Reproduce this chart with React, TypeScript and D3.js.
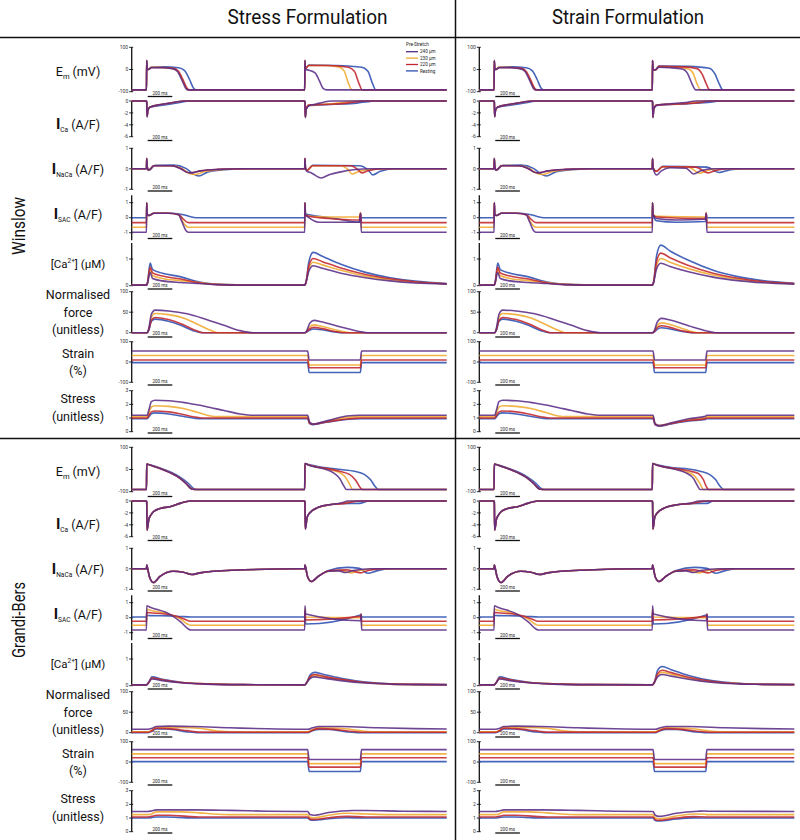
import React from 'react';
import * as d3 from 'd3';

type Pt = [number, number];

// ---------------- DATA (time in ms, values in panel units) ----------------
// Winslow, first beat (shared by both formulations)
const W1_EM_P: Pt[] = [[0,-92],[120,-92],[122,40],[126,2],[135,0],[160,8],[250,8],[330,4],[370,-8],[410,-50],[440,-85],[460,-92],[1400,-92]];
const W1_EM_O: Pt[] = [[0,-92],[120,-92],[122,40],[126,2],[135,0],[160,10],[250,9],[335,4],[375,-8],[415,-50],[445,-85],[465,-92],[1400,-92]];
const W1_EM_R: Pt[] = [[0,-92],[120,-92],[122,40],[126,2],[135,0],[160,9],[250,9],[340,5],[380,-8],[420,-50],[450,-85],[470,-92],[1400,-92]];
const W1_EM_B: Pt[] = [[0,-92],[120,-92],[122,40],[126,2],[135,0],[160,10],[260,12],[380,8],[430,-5],[470,-45],[500,-82],[525,-92],[1400,-92]];
const W1_ICA: Pt[] = [[0,0],[120,0],[122,-0.2],[125,-2.6],[132,-1.5],[150,-1.0],[250,-0.55],[350,-0.2],[430,0],[1400,0]];
const W1_ICA_B: Pt[] = [[0,0],[120,0],[122,-0.2],[125,-2.7],[132,-1.5],[150,-1.05],[250,-0.7],[380,-0.3],[470,0],[1400,0]];
const W1_NCX: Pt[] = [[0,0],[120,0],[122,0.5],[126,0.1],[135,-0.05],[150,-0.02],[180,0.15],[320,0.15],[400,0],[440,-0.15],[480,-0.2],[560,-0.1],[700,-0.03],[900,0],[1400,0]];
const W1_NCX_O: Pt[] = [[0,0],[120,0],[122,0.5],[126,0.1],[135,-0.05],[150,-0.02],[180,0.16],[330,0.15],[410,0],[460,-0.2],[520,-0.28],[600,-0.12],[750,-0.03],[900,0],[1400,0]];
const W1_NCX_B: Pt[] = [[0,0],[120,0],[122,0.5],[126,0.1],[135,-0.08],[150,-0.04],[190,0.17],[340,0.18],[440,0.02],[500,-0.25],[545,-0.35],[620,-0.15],[750,-0.04],[950,0],[1400,0]];
const W1_SAC_P: Pt[] = [[0,-0.97],[120,-0.97],[122,1.0],[126,0.2],[140,0.15],[180,0.3],[300,0.3],[380,0.2],[410,-0.3],[440,-0.85],[460,-0.97],[1400,-0.97]];
const W1_SAC_O: Pt[] = [[0,-0.64],[120,-0.64],[122,1.0],[126,0.2],[140,0.15],[180,0.3],[300,0.3],[380,0.2],[410,-0.2],[440,-0.55],[460,-0.64],[1400,-0.64]];
const W1_SAC_R: Pt[] = [[0,-0.33],[120,-0.33],[122,1.0],[126,0.2],[140,0.15],[180,0.3],[300,0.3],[385,0.2],[415,-0.05],[445,-0.28],[465,-0.33],[1400,-0.33]];
const W1_SAC_B: Pt[] = [[0,0],[120,0],[122,1.0],[126,0.2],[140,0.15],[180,0.3],[330,0.3],[420,0.2],[470,0.08],[525,0],[1400,0]];
const W1_CA_P: Pt[] = [[0,0.02],[120,0.02],[128,0.1],[150,0.5],[170,0.27],[250,0.18],[400,0.12],[550,0.08],[700,0.04],[1000,0.02],[1400,0.02]];
const W1_CA_O: Pt[] = [[0,0.02],[120,0.02],[128,0.1],[150,0.6],[170,0.38],[250,0.27],[400,0.19],[550,0.12],[700,0.05],[1000,0.02],[1400,0.02]];
const W1_CA_R: Pt[] = [[0,0.02],[120,0.02],[128,0.1],[150,0.7],[170,0.48],[250,0.36],[400,0.25],[550,0.1],[700,0.04],[1000,0.02],[1400,0.02]];
const W1_CA_B: Pt[] = [[0,0.02],[120,0.02],[128,0.1],[150,0.85],[170,0.6],[250,0.47],[400,0.33],[550,0.14],[700,0.05],[1000,0.02],[1400,0.02]];
const W1_F_P: Pt[] = [[0,0],[125,0],[140,12],[160,45],[190,55],[300,53],[450,46],[600,33],[750,18],[880,5],[990,0],[1400,0]];
const W1_F_O: Pt[] = [[0,0],[125,0],[140,10],[160,38],[190,47],[300,44],[420,36],[540,20],[640,6],[700,0],[1400,0]];
const W1_F_R: Pt[] = [[0,0],[125,0],[140,8],[160,30],[190,37],[300,32],[400,22],[500,8],[580,0],[1400,0]];
const W1_F_B: Pt[] = [[0,0],[125,0],[140,7],[160,28],[190,33],[300,28],[400,18],[500,5],[570,0],[1400,0]];
const W1_STN_P: Pt[] = [[0,54],[1400,54]];
const W1_STN_O: Pt[] = [[0,32],[1400,32]];
const W1_STN_R: Pt[] = [[0,10],[1400,10]];
const W1_STN_B: Pt[] = [[0,-3],[1400,-3]];
const W1_STS_P: Pt[] = [[0,1.2],[125,1.2],[140,1.6],[160,2.2],[190,2.3],[300,2.27],[450,2.1],[600,1.85],[750,1.55],[880,1.3],[990,1.2],[1400,1.2]];
const W1_STS_O: Pt[] = [[0,1.1],[125,1.1],[140,1.4],[160,1.8],[190,1.9],[300,1.85],[420,1.7],[540,1.4],[640,1.15],[700,1.1],[1400,1.1]];
const W1_STS_R: Pt[] = [[0,1.0],[125,1.0],[140,1.2],[160,1.45],[190,1.52],[300,1.45],[400,1.3],[500,1.1],[580,1.0],[1400,1.0]];
const W1_STS_B: Pt[] = [[0,0.95],[125,0.95],[140,1.1],[160,1.32],[190,1.38],[300,1.3],[400,1.15],[500,1.0],[570,0.95],[1400,0.95]];

// Winslow, second beat, stress formulation
const WS2_EM_P: Pt[] = [[1406,-92],[1408,40],[1412,0],[1440,-3],[1490,-15],[1525,-50],[1555,-85],[1585,-92],[2560,-92]];
const WS2_EM_O: Pt[] = [[1406,-92],[1408,40],[1412,5],[1440,18],[1550,18],[1680,12],[1725,-5],[1760,-60],[1790,-92],[2560,-92]];
const WS2_EM_R: Pt[] = [[1406,-92],[1408,40],[1412,5],[1440,18],[1600,18],[1760,10],[1810,-8],[1845,-60],[1875,-92],[2560,-92]];
const WS2_EM_B: Pt[] = [[1406,-92],[1408,40],[1412,5],[1440,20],[1650,18],[1870,10],[1920,-8],[1955,-60],[1985,-92],[2560,-92]];
const WS2_ICA_P: Pt[] = [[1406,0],[1408,-0.2],[1411,-2.7],[1418,-1.4],[1440,-0.8],[1500,-0.5],[1560,-0.2],[1620,0],[2560,0]];
const WS2_ICA_O: Pt[] = [[1406,0],[1408,-0.2],[1411,-2.7],[1418,-1.3],[1440,-0.7],[1550,-0.55],[1680,-0.35],[1760,-0.1],[1800,0],[2560,0]];
const WS2_ICA_R: Pt[] = [[1406,0],[1408,-0.2],[1411,-2.7],[1418,-1.3],[1440,-0.7],[1600,-0.55],[1750,-0.35],[1840,-0.1],[1880,0],[2560,0]];
const WS2_ICA_B: Pt[] = [[1406,0],[1408,-0.2],[1411,-2.8],[1418,-1.4],[1440,-0.75],[1650,-0.55],[1830,-0.35],[1920,-0.1],[1970,0],[2560,0]];
const WS2_NCX_P: Pt[] = [[1406,0],[1408,0.5],[1412,0.05],[1420,-0.1],[1460,-0.2],[1540,-0.45],[1600,-0.3],[1700,-0.15],[1800,-0.05],[1950,0],[2560,0]];
const WS2_NCX_O: Pt[] = [[1406,0],[1408,0.5],[1412,0.05],[1425,-0.08],[1470,0.15],[1700,0.15],[1760,-0.05],[1790,-0.25],[1850,-0.12],[1950,-0.02],[2100,0],[2560,0]];
const WS2_NCX_R: Pt[] = [[1406,0],[1408,0.5],[1412,0.05],[1425,-0.08],[1470,0.15],[1780,0.15],[1840,-0.05],[1870,-0.2],[1920,-0.1],[2050,0],[2560,0]];
const WS2_NCX_B: Pt[] = [[1406,0],[1408,0.5],[1412,0.05],[1425,-0.08],[1470,0.17],[1850,0.15],[1920,-0.05],[1960,-0.3],[2020,-0.12],[2150,0],[2560,0]];
const WS2_SAC_P: Pt[] = [[1406,-0.97],[1408,1.0],[1412,0.2],[1440,0.0],[1520,-0.3],[1850,-0.3],[1860,0.3],[1866,-0.97],[2560,-0.97]];
const WS2_SAC_O: Pt[] = [[1406,-0.64],[1408,1.0],[1412,0.2],[1440,0.1],[1600,0.05],[1850,0.05],[1860,0.35],[1866,-0.64],[2560,-0.64]];
const WS2_SAC_R: Pt[] = [[1406,-0.33],[1408,1.0],[1412,0.2],[1440,0.1],[1600,-0.05],[1850,-0.15],[1860,0.3],[1866,-0.33],[2560,-0.33]];
const WS2_SAC_B: Pt[] = [[1406,0],[1408,1.0],[1412,0.25],[1440,0.2],[1650,-0.05],[1850,-0.3],[1860,0.3],[1866,0],[2560,0]];
const WS2_CA_P: Pt[] = [[1406,0.02],[1415,0.1],[1440,0.55],[1475,0.75],[1550,0.65],[1700,0.47],[1900,0.3],[2100,0.18],[2300,0.1],[2560,0.06]];
const WS2_CA_O: Pt[] = [[1406,0.02],[1415,0.1],[1440,0.65],[1475,0.88],[1550,0.78],[1700,0.58],[1900,0.36],[2100,0.22],[2300,0.13],[2560,0.07]];
const WS2_CA_R: Pt[] = [[1406,0.02],[1415,0.1],[1440,0.75],[1475,1.02],[1550,0.9],[1700,0.66],[1900,0.42],[2100,0.26],[2300,0.15],[2560,0.07]];
const WS2_CA_B: Pt[] = [[1406,0.02],[1415,0.1],[1440,0.9],[1475,1.25],[1550,1.1],[1700,0.8],[1900,0.5],[2100,0.3],[2300,0.17],[2560,0.08]];
const WS2_F_P: Pt[] = [[1406,0],[1420,3],[1445,22],[1480,30],[1550,26],[1700,14],[1850,3],[1920,0],[2560,0]];
const WS2_F_O: Pt[] = [[1406,0],[1420,2],[1445,14],[1480,19],[1550,15],[1680,5],[1780,0],[2560,0]];
const WS2_F_R: Pt[] = [[1406,0],[1420,2],[1445,9],[1480,13],[1550,10],[1650,3],[1740,0],[2560,0]];
const WS2_F_B: Pt[] = [[1406,0],[1420,1],[1445,6],[1480,9],[1550,7],[1650,2],[1720,0],[2560,0]];
const WS2_STN_P: Pt[] = [[1406,54],[1430,54],[1442,10],[1858,10],[1868,54],[2560,54]];
const WS2_STN_O: Pt[] = [[1406,32],[1430,32],[1442,-15],[1858,-15],[1868,32],[2560,32]];
const WS2_STN_R: Pt[] = [[1406,10],[1430,10],[1442,-28],[1858,-28],[1868,10],[2560,10]];
const WS2_STN_B: Pt[] = [[1406,-3],[1430,-3],[1442,-52],[1858,-52],[1868,-3],[2560,-3]];
const WS2_STS_P: Pt[] = [[1406,1.2],[1430,1.2],[1445,0.7],[1475,0.55],[1550,0.7],[1650,0.95],[1750,1.15],[1850,1.2],[2560,1.2]];
const WS2_STS_O: Pt[] = [[1406,1.1],[1430,1.1],[1445,0.65],[1475,0.55],[1550,0.68],[1650,0.9],[1750,1.05],[1850,1.1],[2560,1.1]];
const WS2_STS_R: Pt[] = [[1406,1.0],[1430,1.0],[1445,0.62],[1475,0.55],[1560,0.68],[1680,0.85],[1800,0.97],[1860,1.0],[2560,1.0]];
const WS2_STS_B: Pt[] = [[1406,0.95],[1430,0.95],[1445,0.6],[1475,0.52],[1560,0.65],[1680,0.82],[1800,0.93],[1860,0.95],[2560,0.95]];

// Winslow, second beat, strain formulation
const WN2_EM_P: Pt[] = [[1406,-92],[1408,40],[1412,0],[1430,-2],[1460,10],[1550,8],[1650,2],[1690,-15],[1725,-60],[1760,-92],[2560,-92]];
const WN2_EM_O: Pt[] = [[1406,-92],[1408,40],[1412,0],[1430,-2],[1460,12],[1600,10],[1700,2],[1740,-20],[1770,-65],[1800,-92],[2560,-92]];
const WN2_EM_R: Pt[] = [[1406,-92],[1408,40],[1412,0],[1430,-2],[1460,14],[1650,12],[1770,4],[1810,-20],[1845,-65],[1872,-92],[2560,-92]];
const WN2_EM_B: Pt[] = [[1406,-92],[1408,40],[1412,0],[1430,-2],[1460,16],[1700,14],[1870,6],[1915,-20],[1950,-65],[1980,-92],[2560,-92]];
const WN2_ICA_P: Pt[] = [[1406,0],[1408,-0.2],[1411,-2.7],[1418,-1.3],[1440,-0.7],[1550,-0.45],[1680,-0.25],[1760,0],[2560,0]];
const WN2_ICA_O: Pt[] = [[1406,0],[1408,-0.2],[1411,-2.7],[1418,-1.3],[1440,-0.7],[1600,-0.45],[1740,-0.25],[1810,0],[2560,0]];
const WN2_ICA_R: Pt[] = [[1406,0],[1408,-0.2],[1411,-2.7],[1418,-1.3],[1440,-0.7],[1650,-0.45],[1800,-0.25],[1870,0],[2560,0]];
const WN2_ICA_B: Pt[] = [[1406,0],[1408,-0.2],[1411,-2.8],[1418,-1.4],[1440,-0.75],[1700,-0.45],[1880,-0.2],[1950,0],[2560,0]];
const WN2_NCX_P: Pt[] = [[1406,0],[1408,0.5],[1412,0.05],[1440,-0.3],[1480,-0.1],[1550,0.05],[1680,0.03],[1740,-0.25],[1800,-0.1],[1900,0],[2560,0]];
const WN2_NCX_O: Pt[] = [[1406,0],[1408,0.5],[1412,0.05],[1440,-0.12],[1490,0.1],[1700,0.08],[1790,-0.22],[1850,-0.08],[1950,0],[2560,0]];
const WN2_NCX_R: Pt[] = [[1406,0],[1408,0.5],[1412,0.05],[1440,-0.12],[1490,0.1],[1760,0.08],[1860,-0.2],[1920,-0.08],[2020,0],[2560,0]];
const WN2_NCX_B: Pt[] = [[1406,0],[1408,0.5],[1412,0.05],[1440,-0.12],[1490,0.12],[1850,0.08],[1950,-0.18],[2020,-0.08],[2120,0],[2560,0]];
const WN2_SAC_P: Pt[] = [[1406,-0.97],[1408,1.0],[1412,0.2],[1440,-0.05],[1600,-0.15],[1838,-0.1],[1844,0.3],[1850,-0.97],[2560,-0.97]];
const WN2_SAC_O: Pt[] = [[1406,-0.64],[1408,1.0],[1412,0.2],[1440,0.1],[1838,0.05],[1844,0.35],[1850,-0.64],[2560,-0.64]];
const WN2_SAC_R: Pt[] = [[1406,-0.33],[1408,1.0],[1412,0.2],[1440,0.05],[1838,-0.05],[1844,0.3],[1850,-0.33],[2560,-0.33]];
const WN2_SAC_B: Pt[] = [[1406,0],[1408,1.0],[1412,0.2],[1440,-0.2],[1600,-0.3],[1838,-0.25],[1844,0.3],[1850,0],[2560,0]];
const WN2_CA_P: Pt[] = [[1406,0.02],[1415,0.1],[1440,0.62],[1475,0.84],[1550,0.72],[1700,0.52],[1900,0.32],[2100,0.19],[2300,0.11],[2560,0.06]];
const WN2_CA_O: Pt[] = [[1406,0.02],[1415,0.1],[1440,0.75],[1475,1.02],[1550,0.88],[1700,0.64],[1900,0.4],[2100,0.24],[2300,0.14],[2560,0.07]];
const WN2_CA_R: Pt[] = [[1406,0.02],[1415,0.1],[1440,0.9],[1475,1.22],[1550,1.05],[1700,0.76],[1900,0.47],[2100,0.28],[2300,0.16],[2560,0.08]];
const WN2_CA_B: Pt[] = [[1406,0.02],[1415,0.1],[1440,1.1],[1475,1.52],[1550,1.3],[1700,0.95],[1900,0.58],[2100,0.34],[2300,0.19],[2560,0.09]];
const WN2_F_P: Pt[] = [[1406,0],[1420,3],[1445,25],[1480,35],[1550,31],[1700,17],[1850,4],[1920,0],[2560,0]];
const WN2_F_O: Pt[] = [[1406,0],[1420,2],[1445,17],[1480,24],[1550,20],[1680,7],[1790,0],[2560,0]];
const WN2_F_R: Pt[] = [[1406,0],[1420,2],[1445,12],[1480,17],[1550,13],[1660,4],[1750,0],[2560,0]];
const WN2_F_B: Pt[] = [[1406,0],[1420,1],[1445,8],[1480,12],[1550,9],[1650,3],[1730,0],[2560,0]];
const WN2_STN_P: Pt[] = [[1406,54],[1412,54],[1424,10],[1840,10],[1850,54],[2560,54]];
const WN2_STN_O: Pt[] = [[1406,32],[1412,32],[1424,-15],[1840,-15],[1850,32],[2560,32]];
const WN2_STN_R: Pt[] = [[1406,10],[1412,10],[1424,-28],[1840,-28],[1850,10],[2560,10]];
const WN2_STN_B: Pt[] = [[1406,-3],[1412,-3],[1424,-52],[1840,-52],[1850,-3],[2560,-3]];
const WN2_STS_P: Pt[] = [[1406,1.2],[1412,1.2],[1428,0.6],[1460,0.45],[1560,0.65],[1700,0.95],[1838,1.12],[1848,1.2],[2560,1.2]];
const WN2_STS_O: Pt[] = [[1406,1.1],[1412,1.1],[1428,0.58],[1460,0.45],[1560,0.62],[1700,0.88],[1838,1.03],[1848,1.1],[2560,1.1]];
const WN2_STS_R: Pt[] = [[1406,1.0],[1412,1.0],[1428,0.55],[1460,0.43],[1560,0.6],[1700,0.82],[1838,0.95],[1848,1.0],[2560,1.0]];
const WN2_STS_B: Pt[] = [[1406,0.95],[1412,0.95],[1428,0.52],[1460,0.4],[1560,0.57],[1700,0.78],[1838,0.9],[1848,0.95],[2560,0.95]];

// Grandi-Bers, first beat
const G1_EM: Pt[] = [[0,-90],[120,-90],[122,25],[149,20],[230,5],[311,-14],[393,-40],[447,-66],[488,-88],[510,-90],[1400,-90]];
const G1_EM_B: Pt[] = [[0,-90],[120,-90],[122,25],[149,21],[230,7],[311,-10],[393,-34],[460,-62],[505,-86],[530,-90],[1400,-90]];
const G1_ICA: Pt[] = [[0,0],[120,0],[122,-0.2],[125,-4.9],[140,-3],[149,-2.6],[176,-1.8],[230,-1.25],[311,-0.95],[393,-0.4],[474,0],[1400,0]];
const G1_NCX: Pt[] = [[0,0],[120,0],[122,0.18],[128,0.05],[145,-0.4],[176,-0.67],[230,-0.37],[338,-0.12],[420,-0.17],[488,-0.28],[555,-0.2],[826,-0.07],[1369,0],[1400,0]];
const G1_SAC_P: Pt[] = [[0,-0.82],[120,-0.82],[122,0.8],[150,0.7],[311,0.22],[400,-0.3],[460,-0.75],[480,-0.82],[1400,-0.82]];
const G1_SAC_O: Pt[] = [[0,-0.5],[120,-0.5],[122,0.56],[150,0.5],[311,0.22],[400,-0.1],[460,-0.45],[480,-0.5],[1400,-0.5]];
const G1_SAC_R: Pt[] = [[0,-0.24],[120,-0.24],[122,0.35],[150,0.33],[311,0.2],[400,0.0],[460,-0.2],[480,-0.24],[1400,-0.24]];
const G1_SAC_B: Pt[] = [[0,0.05],[120,0.05],[122,0.15],[150,0.14],[311,0.12],[400,0.08],[480,0.05],[1400,0.05]];
const G1_CA_P: Pt[] = [[0,0.03],[120,0.03],[135,0.1],[165,0.25],[250,0.19],[400,0.11],[600,0.06],[900,0.04],[1400,0.03]];
const G1_CA_O: Pt[] = [[0,0.03],[120,0.03],[135,0.1],[165,0.27],[250,0.21],[400,0.12],[600,0.07],[900,0.04],[1400,0.03]];
const G1_CA_R: Pt[] = [[0,0.03],[120,0.03],[135,0.1],[165,0.29],[250,0.22],[400,0.12],[600,0.07],[900,0.04],[1400,0.03]];
const G1_CA_B: Pt[] = [[0,0.03],[120,0.03],[135,0.1],[165,0.33],[250,0.24],[400,0.13],[600,0.07],[900,0.04],[1400,0.03]];
const G1_F_P: Pt[] = [[0,8.5],[130,8.5],[160,10],[200,15],[300,16],[500,15],[800,12],[1100,9.5],[1400,8.5]];
const G1_F_O: Pt[] = [[0,2],[130,2],[160,5],[200,13],[400,13],[550,11],[700,4],[800,2.5],[1400,2]];
const G1_F_R: Pt[] = [[0,1],[130,1],[160,4],[200,11],[300,10],[450,5],[550,1.5],[1400,1]];
const G1_F_B: Pt[] = [[0,0],[130,0],[160,3],[200,9],[285,9],[450,2],[550,0],[1400,0]];
const G1_STN_P: Pt[] = [[0,61],[1400,61]];
const G1_STN_O: Pt[] = [[0,40],[1400,40]];
const G1_STN_R: Pt[] = [[0,21],[1400,21]];
const G1_STN_B: Pt[] = [[0,2],[1400,2]];
const G1_STS_P: Pt[] = [[0,1.48],[130,1.48],[160,1.52],[200,1.6],[500,1.6],[800,1.56],[1100,1.5],[1400,1.48]];
const G1_STS_O: Pt[] = [[0,1.25],[130,1.25],[160,1.3],[200,1.45],[400,1.45],[550,1.38],[700,1.28],[800,1.25],[1400,1.25]];
const G1_STS_R: Pt[] = [[0,1.08],[130,1.08],[160,1.12],[200,1.2],[300,1.2],[450,1.12],[550,1.08],[1400,1.08]];
const G1_STS_B: Pt[] = [[0,1.0],[130,1.0],[160,1.03],[200,1.08],[285,1.08],[450,1.01],[550,1.0],[1400,1.0]];

// Grandi-Bers, second beat, stress formulation
const GS2_EM_P: Pt[] = [[1406,-90],[1408,27],[1440,19],[1500,10],[1580,0],[1640,-15],[1690,-40],[1725,-75],[1745,-90],[2560,-90]];
const GS2_EM_O: Pt[] = [[1406,-90],[1408,27],[1440,20],[1500,11],[1580,3],[1680,-12],[1730,-30],[1770,-65],[1795,-90],[2560,-90]];
const GS2_EM_R: Pt[] = [[1406,-90],[1408,27],[1440,20],[1500,12],[1580,5],[1690,-8],[1770,-22],[1820,-48],[1855,-80],[1875,-90],[2560,-90]];
const GS2_EM_B: Pt[] = [[1406,-90],[1408,27],[1440,22],[1500,15],[1580,8],[1700,0],[1810,-8],[1890,-22],[1940,-45],[1980,-78],[2005,-90],[2560,-90]];
const GS2_ICA_P: Pt[] = [[1406,0],[1408,-0.2],[1411,-4.7],[1425,-2.8],[1442,-2.1],[1523,-1.0],[1620,-0.6],[1700,-0.35],[1760,0],[2560,0]];
const GS2_ICA_O: Pt[] = [[1406,0],[1408,-0.2],[1411,-4.7],[1425,-2.8],[1442,-2.1],[1523,-1.0],[1620,-0.6],[1713,-0.4],[1800,0],[2560,0]];
const GS2_ICA_R: Pt[] = [[1406,0],[1408,-0.2],[1411,-4.7],[1425,-2.8],[1442,-2.1],[1523,-1.0],[1620,-0.6],[1730,-0.4],[1860,0],[2560,0]];
const GS2_ICA_B: Pt[] = [[1406,0],[1408,-0.2],[1411,-4.7],[1425,-2.8],[1442,-2.1],[1523,-1.0],[1620,-0.6],[1713,-0.45],[1849,-0.4],[1930,0],[2560,0]];
const GS2_NCX_P: Pt[] = [[1406,0],[1408,0.18],[1414,0.05],[1430,-0.4],[1460,-0.62],[1520,-0.35],[1600,-0.12],[1680,-0.1],[1740,-0.18],[1800,-0.08],[1950,0],[2560,0]];
const GS2_NCX_O: Pt[] = [[1406,0],[1408,0.18],[1414,0.05],[1430,-0.4],[1460,-0.62],[1520,-0.35],[1600,-0.12],[1700,-0.08],[1790,-0.2],[1850,-0.08],[2000,0],[2560,0]];
const GS2_NCX_R: Pt[] = [[1406,0],[1408,0.18],[1414,0.05],[1430,-0.4],[1460,-0.62],[1520,-0.35],[1600,-0.1],[1750,-0.05],[1860,-0.2],[1920,-0.08],[2050,0],[2560,0]];
const GS2_NCX_B: Pt[] = [[1406,0],[1408,0.18],[1414,0.05],[1430,-0.4],[1460,-0.62],[1520,-0.35],[1600,-0.08],[1750,0.07],[1850,0.02],[1920,-0.22],[1990,-0.1],[2100,0],[2560,0]];
const GS2_SAC_P: Pt[] = [[1406,-0.82],[1408,0.8],[1414,0.25],[1860,-0.2],[1864,0.22],[1869,-0.82],[2560,-0.82]];
const GS2_SAC_O: Pt[] = [[1406,-0.5],[1408,0.6],[1414,0.05],[1860,0.0],[1864,0.22],[1869,-0.5],[2560,-0.5]];
const GS2_SAC_R: Pt[] = [[1406,-0.24],[1408,0.45],[1414,-0.15],[1860,0.1],[1864,0.22],[1869,-0.24],[2560,-0.24]];
const GS2_SAC_B: Pt[] = [[1406,0.05],[1408,0.3],[1414,-0.42],[1860,0.18],[1864,0.22],[1869,0.05],[2560,0.05]];
const GS2_CA_P: Pt[] = [[1406,0.03],[1420,0.1],[1450,0.27],[1485,0.33],[1560,0.28],[1700,0.19],[1900,0.1],[2100,0.06],[2300,0.04],[2560,0.03]];
const GS2_CA_O: Pt[] = [[1406,0.03],[1420,0.1],[1450,0.3],[1485,0.38],[1560,0.32],[1700,0.22],[1900,0.11],[2100,0.06],[2300,0.04],[2560,0.03]];
const GS2_CA_R: Pt[] = [[1406,0.03],[1420,0.1],[1450,0.34],[1485,0.42],[1560,0.35],[1700,0.24],[1900,0.12],[2100,0.07],[2300,0.05],[2560,0.04]];
const GS2_CA_B: Pt[] = [[1406,0.03],[1420,0.1],[1450,0.4],[1485,0.5],[1560,0.42],[1700,0.28],[1900,0.14],[2100,0.07],[2300,0.05],[2560,0.04]];
const GS2_F_P: Pt[] = [[1406,8.5],[1430,8.5],[1470,12],[1520,15],[1700,15],[2000,12],[2300,10],[2560,9]];
const GS2_F_O: Pt[] = [[1406,2],[1430,2],[1470,8],[1520,12],[1700,11],[1850,5],[1950,2.5],[2560,2]];
const GS2_F_R: Pt[] = [[1406,1],[1430,1],[1470,6],[1520,10],[1650,8],[1800,3],[1900,1],[2560,1]];
const GS2_F_B: Pt[] = [[1406,0],[1430,0],[1470,5],[1520,8],[1600,8],[1750,2],[1850,0],[2560,0]];
const GS2_STN_P: Pt[] = [[1406,61],[1430,61],[1442,12],[1858,12],[1868,61],[2560,61]];
const GS2_STN_O: Pt[] = [[1406,40],[1430,40],[1442,-8],[1858,-8],[1868,40],[2560,40]];
const GS2_STN_R: Pt[] = [[1406,21],[1430,21],[1442,-25],[1858,-25],[1868,21],[2560,21]];
const GS2_STN_B: Pt[] = [[1406,2],[1430,2],[1442,-47],[1858,-47],[1868,2],[2560,2]];
const GS2_STS_P: Pt[] = [[1406,1.48],[1430,1.48],[1450,1.25],[1480,1.2],[1600,1.4],[1800,1.55],[1900,1.55],[2200,1.5],[2560,1.48]];
const GS2_STS_O: Pt[] = [[1406,1.25],[1430,1.25],[1450,1.05],[1480,1.02],[1600,1.2],[1750,1.35],[1900,1.3],[2100,1.25],[2560,1.25]];
const GS2_STS_R: Pt[] = [[1406,1.08],[1430,1.08],[1450,0.92],[1480,0.9],[1600,1.02],[1750,1.12],[1900,1.08],[2560,1.08]];
const GS2_STS_B: Pt[] = [[1406,1.0],[1430,1.0],[1450,0.86],[1480,0.84],[1600,0.95],[1750,1.02],[1900,1.0],[2560,1.0]];

// Grandi-Bers, second beat, strain formulation
const GN2_EM_P: Pt[] = [[1406,-90],[1408,27],[1440,20],[1500,11],[1580,2],[1680,-15],[1740,-40],[1775,-75],[1795,-90],[2560,-90]];
const GN2_EM_O: Pt[] = [[1406,-90],[1408,27],[1440,20],[1500,11],[1580,3],[1690,-12],[1750,-30],[1795,-65],[1821,-90],[2560,-90]];
const GN2_EM_R: Pt[] = [[1406,-90],[1408,27],[1440,20],[1500,12],[1580,5],[1700,-6],[1780,-18],[1820,-45],[1848,-80],[1862,-90],[2560,-90]];
const GN2_EM_B: Pt[] = [[1406,-90],[1408,27],[1440,22],[1500,15],[1577,8],[1700,2],[1794,-8],[1870,-22],[1920,-45],[1960,-78],[1984,-90],[2560,-90]];
const GN2_ICA_P: Pt[] = [[1406,0],[1408,-0.2],[1411,-4.7],[1425,-2.8],[1442,-2.1],[1523,-1.0],[1620,-0.6],[1713,-0.4],[1790,0],[2560,0]];
const GN2_ICA_O: Pt[] = [[1406,0],[1408,-0.2],[1411,-4.7],[1425,-2.8],[1442,-2.1],[1523,-1.0],[1620,-0.6],[1720,-0.4],[1820,0],[2560,0]];
const GN2_ICA_R: Pt[] = [[1406,0],[1408,-0.2],[1411,-4.7],[1425,-2.8],[1442,-2.1],[1523,-1.0],[1620,-0.6],[1730,-0.4],[1860,0],[2560,0]];
const GN2_ICA_B: Pt[] = [[1406,0],[1408,-0.2],[1411,-4.7],[1425,-2.8],[1442,-2.1],[1523,-1.0],[1620,-0.6],[1713,-0.45],[1849,-0.4],[1902,0],[2560,0]];
const GN2_SAC_P: Pt[] = [[1406,-0.82],[1408,0.8],[1414,0.25],[1846,-0.2],[1850,0.22],[1855,-0.82],[2560,-0.82]];
const GN2_SAC_O: Pt[] = [[1406,-0.5],[1408,0.6],[1414,0.05],[1846,0.0],[1850,0.22],[1855,-0.5],[2560,-0.5]];
const GN2_SAC_R: Pt[] = [[1406,-0.24],[1408,0.45],[1414,-0.15],[1846,0.1],[1850,0.22],[1855,-0.24],[2560,-0.24]];
const GN2_SAC_B: Pt[] = [[1406,0.05],[1408,0.3],[1414,-0.42],[1846,0.18],[1850,0.22],[1855,0.05],[2560,0.05]];
const GN2_CA_P: Pt[] = [[1406,0.03],[1420,0.1],[1450,0.34],[1485,0.42],[1560,0.36],[1700,0.24],[1900,0.12],[2100,0.07],[2300,0.05],[2560,0.04]];
const GN2_CA_O: Pt[] = [[1406,0.03],[1420,0.1],[1450,0.4],[1485,0.5],[1560,0.43],[1700,0.28],[1900,0.14],[2100,0.08],[2300,0.05],[2560,0.04]];
const GN2_CA_R: Pt[] = [[1406,0.03],[1420,0.1],[1450,0.46],[1485,0.58],[1560,0.49],[1700,0.32],[1900,0.16],[2100,0.08],[2300,0.05],[2560,0.04]];
const GN2_CA_B: Pt[] = [[1406,0.03],[1420,0.1],[1450,0.58],[1485,0.72],[1560,0.6],[1700,0.38],[1900,0.18],[2100,0.09],[2300,0.05],[2560,0.04]];
const GN2_STN_P: Pt[] = [[1406,61],[1412,61],[1424,12],[1840,12],[1850,61],[2560,61]];
const GN2_STN_O: Pt[] = [[1406,40],[1412,40],[1424,-8],[1840,-8],[1850,40],[2560,40]];
const GN2_STN_R: Pt[] = [[1406,21],[1412,21],[1424,-25],[1840,-25],[1850,21],[2560,21]];
const GN2_STN_B: Pt[] = [[1406,2],[1412,2],[1424,-47],[1840,-47],[1850,2],[2560,2]];
const GN2_STS_P: Pt[] = [[1406,1.48],[1412,1.48],[1430,1.2],[1460,1.12],[1600,1.35],[1780,1.5],[1838,1.52],[1848,1.5],[2560,1.48]];
const GN2_STS_O: Pt[] = [[1406,1.25],[1412,1.25],[1430,1.0],[1460,0.95],[1600,1.15],[1760,1.3],[1838,1.28],[1848,1.25],[2560,1.25]];
const GN2_STS_R: Pt[] = [[1406,1.08],[1412,1.08],[1430,0.88],[1460,0.84],[1600,1.0],[1740,1.1],[1848,1.08],[2560,1.08]];
const GN2_STS_B: Pt[] = [[1406,1.0],[1412,1.0],[1430,0.82],[1460,0.78],[1600,0.93],[1740,1.01],[1848,1.0],[2560,1.0]];

// ---------------- labels / categories ----------------
const COLUMN_TITLES = ['Stress Formulation', 'Strain Formulation'];
const MODEL_NAMES = ['Winslow', 'Grandi-Bers'];
const QUANTS = ['EM', 'ICA', 'NCX', 'SAC', 'CA', 'F', 'STN', 'STS'];
const SERIES_DRAW = ['B', 'O', 'R', 'P'];
const LEGEND_KEYS = ['P', 'O', 'R', 'B'];
const LEGEND_LABELS = ['240 μm', '230 μm', '220 μm', 'Resting'];
const LEGEND_TITLE = 'Pre-Stretch';
const SCALE_LABEL = '200 ms';
const TIME_BAR: [number, number] = [130, 330];
const T_DOMAIN: [number, number] = [0, 2560];

const Q_DOMAIN: Record<string, [number, number]> = {
  EM: [-100, 100], ICA: [-6, 0], NCX: [-1, 1], SAC: [-1.5, 1.5],
  CA: [0, 1.6], F: [0, 100], STN: [-100, 100], STS: [0, 3],
};
const Q_TICKS: Record<string, number[]> = {
  EM: [100, 0, -100], ICA: [0, -2, -4, -6], NCX: [1, 0, -1], SAC: [1, 0, -1],
  CA: [1, 0], F: [100, 50, 0], STN: [100, 0, -100], STS: [3, 2, 1, 0],
};

// ---------------- layout (pixels) ----------------
const Q_PIX: Record<string, [number, number]> = {
  EM: [91.7, 47.3], ICA: [136.7, 101], NCX: [189.3, 148.3], SAC: [240.2, 195.2],
  CA: [285.7, 243], F: [332.7, 291.7], STN: [382.3, 341.7], STS: [431.7, 390.7],
};
const Q_BAR_Y: Record<string, number> = {
  EM: 96.5, ICA: 140.5, NCX: 191, SAC: 238.5, CA: 289, F: 337, STN: 385, STS: 433,
};
const Q_LABEL_Y: Record<string, number[]> = {
  EM: [71.7], ICA: [125], NCX: [170], SAC: [215], CA: [263.3],
  F: [295, 312.3, 329.3], STN: [354, 370.7], STS: [399, 416.7],
};
const COL_AXIS_X = [131.7, 479.3];
const PLOT_W = 315;
const MODEL_DY = [0, 400];
const FONT = 'Roboto, "Open Sans", sans-serif';
const COLORS: Record<string, string> = { P: '#5b2c86', O: '#f0a92e', R: '#c1272d', B: '#2c4eb0' };

const join = (a: Pt[], b: Pt[]): Pt[] => [...a, ...b];

const TRACES: Record<string, Record<string, Pt[]>>[][] = [
  [
    {
      EM: { P: join(W1_EM_P, WS2_EM_P), O: join(W1_EM_O, WS2_EM_O), R: join(W1_EM_R, WS2_EM_R), B: join(W1_EM_B, WS2_EM_B) },
      ICA: { P: join(W1_ICA, WS2_ICA_P), O: join(W1_ICA, WS2_ICA_O), R: join(W1_ICA, WS2_ICA_R), B: join(W1_ICA_B, WS2_ICA_B) },
      NCX: { P: join(W1_NCX, WS2_NCX_P), O: join(W1_NCX_O, WS2_NCX_O), R: join(W1_NCX, WS2_NCX_R), B: join(W1_NCX_B, WS2_NCX_B) },
      SAC: { P: join(W1_SAC_P, WS2_SAC_P), O: join(W1_SAC_O, WS2_SAC_O), R: join(W1_SAC_R, WS2_SAC_R), B: join(W1_SAC_B, WS2_SAC_B) },
      CA: { P: join(W1_CA_P, WS2_CA_P), O: join(W1_CA_O, WS2_CA_O), R: join(W1_CA_R, WS2_CA_R), B: join(W1_CA_B, WS2_CA_B) },
      F: { P: join(W1_F_P, WS2_F_P), O: join(W1_F_O, WS2_F_O), R: join(W1_F_R, WS2_F_R), B: join(W1_F_B, WS2_F_B) },
      STN: { P: join(W1_STN_P, WS2_STN_P), O: join(W1_STN_O, WS2_STN_O), R: join(W1_STN_R, WS2_STN_R), B: join(W1_STN_B, WS2_STN_B) },
      STS: { P: join(W1_STS_P, WS2_STS_P), O: join(W1_STS_O, WS2_STS_O), R: join(W1_STS_R, WS2_STS_R), B: join(W1_STS_B, WS2_STS_B) },
    },
    {
      EM: { P: join(W1_EM_P, WN2_EM_P), O: join(W1_EM_O, WN2_EM_O), R: join(W1_EM_R, WN2_EM_R), B: join(W1_EM_B, WN2_EM_B) },
      ICA: { P: join(W1_ICA, WN2_ICA_P), O: join(W1_ICA, WN2_ICA_O), R: join(W1_ICA, WN2_ICA_R), B: join(W1_ICA_B, WN2_ICA_B) },
      NCX: { P: join(W1_NCX, WN2_NCX_P), O: join(W1_NCX_O, WN2_NCX_O), R: join(W1_NCX, WN2_NCX_R), B: join(W1_NCX_B, WN2_NCX_B) },
      SAC: { P: join(W1_SAC_P, WN2_SAC_P), O: join(W1_SAC_O, WN2_SAC_O), R: join(W1_SAC_R, WN2_SAC_R), B: join(W1_SAC_B, WN2_SAC_B) },
      CA: { P: join(W1_CA_P, WN2_CA_P), O: join(W1_CA_O, WN2_CA_O), R: join(W1_CA_R, WN2_CA_R), B: join(W1_CA_B, WN2_CA_B) },
      F: { P: join(W1_F_P, WN2_F_P), O: join(W1_F_O, WN2_F_O), R: join(W1_F_R, WN2_F_R), B: join(W1_F_B, WN2_F_B) },
      STN: { P: join(W1_STN_P, WN2_STN_P), O: join(W1_STN_O, WN2_STN_O), R: join(W1_STN_R, WN2_STN_R), B: join(W1_STN_B, WN2_STN_B) },
      STS: { P: join(W1_STS_P, WN2_STS_P), O: join(W1_STS_O, WN2_STS_O), R: join(W1_STS_R, WN2_STS_R), B: join(W1_STS_B, WN2_STS_B) },
    },
  ],
  [
    {
      EM: { P: join(G1_EM, GS2_EM_P), O: join(G1_EM, GS2_EM_O), R: join(G1_EM, GS2_EM_R), B: join(G1_EM_B, GS2_EM_B) },
      ICA: { P: join(G1_ICA, GS2_ICA_P), O: join(G1_ICA, GS2_ICA_O), R: join(G1_ICA, GS2_ICA_R), B: join(G1_ICA, GS2_ICA_B) },
      NCX: { P: join(G1_NCX, GS2_NCX_P), O: join(G1_NCX, GS2_NCX_O), R: join(G1_NCX, GS2_NCX_R), B: join(G1_NCX, GS2_NCX_B) },
      SAC: { P: join(G1_SAC_P, GS2_SAC_P), O: join(G1_SAC_O, GS2_SAC_O), R: join(G1_SAC_R, GS2_SAC_R), B: join(G1_SAC_B, GS2_SAC_B) },
      CA: { P: join(G1_CA_P, GS2_CA_P), O: join(G1_CA_O, GS2_CA_O), R: join(G1_CA_R, GS2_CA_R), B: join(G1_CA_B, GS2_CA_B) },
      F: { P: join(G1_F_P, GS2_F_P), O: join(G1_F_O, GS2_F_O), R: join(G1_F_R, GS2_F_R), B: join(G1_F_B, GS2_F_B) },
      STN: { P: join(G1_STN_P, GS2_STN_P), O: join(G1_STN_O, GS2_STN_O), R: join(G1_STN_R, GS2_STN_R), B: join(G1_STN_B, GS2_STN_B) },
      STS: { P: join(G1_STS_P, GS2_STS_P), O: join(G1_STS_O, GS2_STS_O), R: join(G1_STS_R, GS2_STS_R), B: join(G1_STS_B, GS2_STS_B) },
    },
    {
      EM: { P: join(G1_EM, GN2_EM_P), O: join(G1_EM, GN2_EM_O), R: join(G1_EM, GN2_EM_R), B: join(G1_EM_B, GN2_EM_B) },
      ICA: { P: join(G1_ICA, GN2_ICA_P), O: join(G1_ICA, GN2_ICA_O), R: join(G1_ICA, GN2_ICA_R), B: join(G1_ICA, GN2_ICA_B) },
      NCX: { P: join(G1_NCX, GS2_NCX_P), O: join(G1_NCX, GS2_NCX_O), R: join(G1_NCX, GS2_NCX_R), B: join(G1_NCX, GS2_NCX_B) },
      SAC: { P: join(G1_SAC_P, GN2_SAC_P), O: join(G1_SAC_O, GN2_SAC_O), R: join(G1_SAC_R, GN2_SAC_R), B: join(G1_SAC_B, GN2_SAC_B) },
      CA: { P: join(G1_CA_P, GN2_CA_P), O: join(G1_CA_O, GN2_CA_O), R: join(G1_CA_R, GN2_CA_R), B: join(G1_CA_B, GN2_CA_B) },
      F: { P: join(G1_F_P, GS2_F_P), O: join(G1_F_O, GS2_F_O), R: join(G1_F_R, GS2_F_R), B: join(G1_F_B, GS2_F_B) },
      STN: { P: join(G1_STN_P, GN2_STN_P), O: join(G1_STN_O, GN2_STN_O), R: join(G1_STN_R, GN2_STN_R), B: join(G1_STN_B, GN2_STN_B) },
      STS: { P: join(G1_STS_P, GN2_STS_P), O: join(G1_STS_O, GN2_STS_O), R: join(G1_STS_R, GN2_STS_R), B: join(G1_STS_B, GN2_STS_B) },
    },
  ],
];

// ---------------- components ----------------
function Panel({ model, col, q }: { model: number; col: number; q: string }) {
  const ax = COL_AXIS_X[col];
  const dy = MODEL_DY[model];
  const x = d3.scaleLinear().domain(T_DOMAIN).range([ax, ax + PLOT_W]);
  const [yb, yt] = Q_PIX[q];
  const y = d3.scaleLinear().domain(Q_DOMAIN[q]).range([yb + dy, yt + dy]);
  const line = d3.line<Pt>().x((d) => x(d[0])).y((d) => y(d[1])).curve(d3.curveMonotoneX);
  const traces = TRACES[model][col][q];
  const [d0, d1] = Q_DOMAIN[q];
  const barY = Q_BAR_Y[q] + dy;
  return (
    <g>
      <line x1={ax} x2={ax} y1={y(d0)} y2={y(d1)} stroke="#111" strokeWidth={1.3} />
      {Q_TICKS[q].map((t) => (
        <g key={t}>
          <line x1={ax - 2.5} x2={ax + 1.5} y1={y(t)} y2={y(t)} stroke="#111" strokeWidth={0.9} />
          <text x={ax - 3.5} y={y(t)} dy="0.35em" textAnchor="end" fontSize={5} fontFamily={FONT} fill="#333">{t}</text>
        </g>
      ))}
      {SERIES_DRAW.map((k) => (
        <path key={k} d={line(traces[k]) || ''} fill="none" stroke={COLORS[k]} strokeWidth={1.6} strokeOpacity={0.88} strokeLinejoin="round" />
      ))}
      <line x1={x(TIME_BAR[0])} x2={x(TIME_BAR[1])} y1={barY} y2={barY} stroke="#111" strokeWidth={1.3} />
      <text x={(x(TIME_BAR[0]) + x(TIME_BAR[1])) / 2} y={barY - 1.6} textAnchor="middle" fontSize={4.5} fontFamily={FONT} fill="#222">{SCALE_LABEL}</text>
    </g>
  );
}

function QLabel({ q, dy }: { q: string; dy: number }) {
  const ys = Q_LABEL_Y[q].map((v) => v + dy + 4.3);
  const common = { x: 78, textAnchor: 'middle' as const, fontFamily: FONT, fontSize: 12.5, fill: '#111' };
  const cur = (sub: string) => (
    <text {...common} y={ys[0]}>
      <tspan fontWeight="bold" fontSize={15}>I</tspan>
      <tspan fontSize={6.5} dy={3}>{sub}</tspan>
      <tspan dy={-3}> (A/F)</tspan>
    </text>
  );
  if (q === 'EM') return (
    <text {...common} y={ys[0]}>E<tspan fontSize={7.5} dy={3}>m</tspan><tspan dy={-3}> (mV)</tspan></text>
  );
  if (q === 'ICA') return cur('Ca');
  if (q === 'NCX') return cur('NaCa');
  if (q === 'SAC') return cur('SAC');
  if (q === 'CA') return (
    <text {...common} y={ys[0]} fontSize={11.5}>[Ca<tspan fontSize={6.5} dy={-4.5}>2+</tspan><tspan dy={4.5}>] (μM)</tspan></text>
  );
  const lines = q === 'F' ? ['Normalised', 'force', '(unitless)'] : q === 'STN' ? ['Strain', '(%)'] : ['Stress', '(unitless)'];
  return (
    <g>
      {lines.map((s, i) => (
        <text key={s} {...common} y={ys[i]}>{s}</text>
      ))}
    </g>
  );
}

function Legend() {
  const x0 = 406;
  const rowsY = [51.7, 58.1, 64.5, 70.9];
  return (
    <g fontFamily={FONT}>
      <text x={x0} y={45.5} fontSize={4.6} fill="#222">{LEGEND_TITLE}</text>
      {LEGEND_KEYS.map((k, i) => (
        <g key={k}>
          <line x1={x0} x2={x0 + 12} y1={rowsY[i]} y2={rowsY[i]} stroke={COLORS[k]} strokeWidth={1.3} />
          <text x={x0 + 14} y={rowsY[i]} dy="0.35em" fontSize={4.6} fill="#222">{LEGEND_LABELS[i]}</text>
        </g>
      ))}
    </g>
  );
}

export default function App() {
  return (
    <svg width={800} height={840} style={{ display: 'block', position: 'absolute', left: 0, top: 0, background: '#fff' }}>
      <rect x={0} y={0} width={800} height={840} fill="#fff" />
      <text x={307.5} y={23.5} textAnchor="middle" fontFamily={FONT} fontSize={21} textLength={160} lengthAdjust="spacingAndGlyphs" fill="#111">{COLUMN_TITLES[0]}</text>
      <text x={628} y={23.5} textAnchor="middle" fontFamily={FONT} fontSize={21} textLength={152} lengthAdjust="spacingAndGlyphs" fill="#111">{COLUMN_TITLES[1]}</text>
      <line x1={0} x2={800} y1={37.5} y2={37.5} stroke="#111" strokeWidth={1.5} />
      <line x1={455.5} x2={455.5} y1={0} y2={840} stroke="#111" strokeWidth={1.5} />
      <line x1={0} x2={800} y1={438.5} y2={438.5} stroke="#111" strokeWidth={1.5} />
      <text transform="translate(24.5,226) rotate(-90)" textAnchor="middle" fontFamily={FONT} fontSize={18} textLength={58} lengthAdjust="spacingAndGlyphs" fill="#111">{MODEL_NAMES[0]}</text>
      <text transform="translate(24.5,620) rotate(-90)" textAnchor="middle" fontFamily={FONT} fontSize={18} textLength={76} lengthAdjust="spacingAndGlyphs" fill="#111">{MODEL_NAMES[1]}</text>
      {[0, 1].map((m) => (
        <g key={m}>
          {QUANTS.map((q) => (
            <QLabel key={q} q={q} dy={MODEL_DY[m]} />
          ))}
          {[0, 1].map((c) => QUANTS.map((q) => <Panel key={`${c}-${q}`} model={m} col={c} q={q} />))}
        </g>
      ))}
      <Legend />
    </svg>
  );
}
